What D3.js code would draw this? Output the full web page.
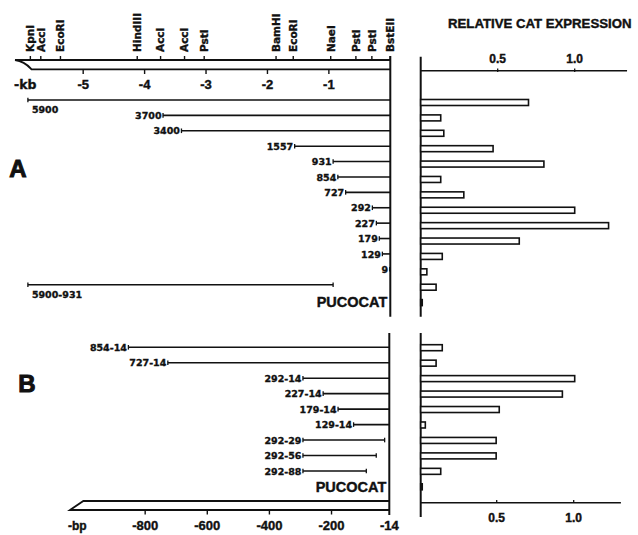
<html>
<head>
<meta charset="utf-8">
<script src="https://d3js.org/d3.v7.min.js"></script>
<style>
body { margin: 0; background: #fff; }
svg { display: block; }
.lbl { font-family: "DejaVu Sans", sans-serif; font-weight: bold; fill: #111; stroke: #111; stroke-width: 0.35px; }
.ax { font-family: "Liberation Sans", Arial, sans-serif; font-weight: bold; fill: #111; stroke: #111; stroke-width: 0.4px; }
</style>
</head>
<body>
<div id="chart"></div>
<script>
// restriction sites on the 5' flanking region (kb upstream)
var siteNames = ["KpnI", "AccI", "EcoRI", "HindIII", "AccI", "AccI", "PstI", "BamHI", "EcoRI", "NaeI", "PstI", "PstI", "BstEII"];
var siteKb = [-5.86, -5.69, -5.37, -4.12, -3.74, -3.35, -3.03, -1.86, -1.58, -0.97, -0.56, -0.30, 0];
var kbTicks = [-5, -4, -3, -2, -1];

// panel A: 5' deletions
var aLabels = ["5900", "3700", "3400", "1557", "931", "854", "727", "292", "227", "179", "129", "9", "5900-931", "PUCOCAT"];
var aStart = [-5900, -3700, -3400, -1557, -931, -854, -727, -292, -227, -179, -129, -9, -5900, null];
var aEnd = [0, 0, 0, 0, 0, 0, 0, 0, 0, 0, 0, 0, -931, null];
var aExpr = [0.70, 0.13, 0.15, 0.47, 0.80, 0.13, 0.28, 1.0, 1.22, 0.64, 0.14, 0.04, 0.10, 0.01];

// panel B: 3' deletions
var bLabels = ["854-14", "727-14", "292-14", "227-14", "179-14", "129-14", "292-29", "292-56", "292-88", "PUCOCAT"];
var bStart = [-854, -727, -292, -227, -179, -129, -292, -292, -292, null];
var bEnd = [-14, -14, -14, -14, -14, -14, -29, -56, -88, null];
var bExpr = [0.14, 0.10, 1.0, 0.92, 0.51, 0.03, 0.49, 0.49, 0.13, 0.01];
var bpTicks = [-800, -600, -400, -200, -14];

var exprTicks = [0.5, 1.0];

var svg = d3.select("#chart").append("svg")
	.attr("width", 638)
	.attr("height", 535);

var xKb = d3.scaleLinear().domain([-6110, 0]).range([15, 390.3]);
var xBp = d3.scaleLinear().domain([-1042, -14]).range([70, 389.3]);
var xE = d3.scaleLinear().domain([0, 1]).range([420.7, 574.7]);

var yA = d3.scalePoint().domain(d3.range(aLabels.length)).range([100, 300.1]);
var yB = d3.scalePoint().domain(d3.range(bLabels.length)).range([347.3, 486.4]);

var ink = "#111";

// ---- top kb map ----
var gMap = svg.append("g");
gMap.append("path")
	.attr("d", "M" + xKb(0) + ",60 L" + xKb(-6110) + ",60 Q" + (xKb(-6110) + 9) + ",61 " + xKb(-5840) + ",69.3 L" + xKb(0) + ",69.3")
	.attr("fill", "none").attr("stroke", ink).attr("stroke-width", 1.8);

gMap.selectAll(".site").data(siteKb).enter().append("line")
	.attr("x1", d => xKb(d * 1000)).attr("x2", d => xKb(d * 1000))
	.attr("y1", 56).attr("y2", 60)
	.attr("stroke", ink).attr("stroke-width", 1.4);

gMap.selectAll(".sitelbl").data(siteNames).enter().append("text")
	.attr("class", "lbl")
	.attr("transform", (d, i) => "translate(" + (xKb(siteKb[i] * 1000) + 3.8) + ",52) rotate(-90)")
	.style("font-size", "10.5px")
	.text(d => d);

gMap.selectAll(".kbt").data(kbTicks).enter().append("line")
	.attr("x1", d => xKb(d * 1000)).attr("x2", d => xKb(d * 1000))
	.attr("y1", 69.3).attr("y2", 74)
	.attr("stroke", ink).attr("stroke-width", 1.4);

gMap.selectAll(".kbl").data(kbTicks).enter().append("text")
	.attr("class", "ax")
	.attr("x", d => xKb(d * 1000)).attr("y", 89.3)
	.attr("text-anchor", "middle")
	.style("font-size", "13px")
	.text(d => "-" + Math.abs(d));

gMap.append("text").attr("class", "lbl")
	.attr("x", 14).attr("y", 89.3)
	.style("font-size", "12.5px")
	.text("-kb");

// ---- construct rows ----
function drawRows(g, labels, starts, ends, y, x, endX, capAtEnd, pucY) {
	labels.forEach(function(lab, i) {
		var yy = y(i);
		if (starts[i] === null) {
			g.append("text").attr("class", "ax")
				.attr("x", endX - 3).attr("y", yy + pucY)
				.attr("text-anchor", "end")
				.style("font-size", "14.5px")
				.text(lab);
			return;
		}
		var x1 = x(starts[i]), x2 = x(ends[i]);
		g.append("line").attr("x1", x1).attr("x2", x2).attr("y1", yy).attr("y2", yy)
			.attr("stroke", ink).attr("stroke-width", 1.6);
		g.append("line").attr("x1", x1).attr("x2", x1).attr("y1", yy - 2.3).attr("y2", yy + 2.3)
			.attr("stroke", ink).attr("stroke-width", 1.3);
		if (ends[i] !== capAtEnd) {
			g.append("line").attr("x1", x2).attr("x2", x2).attr("y1", yy - 2.3).attr("y2", yy + 2.3)
				.attr("stroke", ink).attr("stroke-width", 1.3);
		}
		var t = g.append("text").attr("class", "lbl").style("font-size", "9.5px").text(lab);
		if (starts[i] <= -5000) {
			t.attr("x", x1 + 4).attr("y", yy + 13);
		} else {
			t.attr("x", x1 - 1.5).attr("y", yy + 3.6).attr("text-anchor", "end");
		}
	});
}

var gA = svg.append("g");
gA.append("line").attr("x1", xKb(0)).attr("x2", xKb(0)).attr("y1", 56).attr("y2", 316.7)
	.attr("stroke", ink).attr("stroke-width", 2);
drawRows(gA, aLabels, aStart, aEnd, yA, xKb, xKb(0), 0, 6.5);

svg.append("text").attr("class", "ax")
	.attr("x", 18).attr("y", 177.3).attr("text-anchor", "middle")
	.style("font-size", "24px").style("stroke-width", "1px").text("A");

var gB = svg.append("g");
gB.append("line").attr("x1", xBp(-14)).attr("x2", xBp(-14)).attr("y1", 333).attr("y2", 515)
	.attr("stroke", ink).attr("stroke-width", 2);
drawRows(gB, bLabels, bStart, bEnd, yB, xBp, xBp(-14), -14, 5.2);

svg.append("text").attr("class", "ax")
	.attr("x", 27).attr("y", 391.7).attr("text-anchor", "middle")
	.style("font-size", "24px").style("stroke-width", "1px").text("B");

// ---- bottom bp axis ----
var gBot = svg.append("g");
gBot.append("path")
	.attr("d", "M" + xBp(-14) + ",501 L" + xBp(-999) + ",501 L" + xBp(-1042) + ",510 L" + xBp(-14) + ",510")
	.attr("fill", "none").attr("stroke", ink).attr("stroke-width", 1.8);
gBot.selectAll(".bpt").data(bpTicks.slice(0, 4)).enter().append("line")
	.attr("x1", d => xBp(d)).attr("x2", d => xBp(d))
	.attr("y1", 510).attr("y2", 514.5)
	.attr("stroke", ink).attr("stroke-width", 1.4);
gBot.selectAll(".bpl").data(bpTicks).enter().append("text")
	.attr("class", "ax")
	.attr("x", d => xBp(d)).attr("y", 530)
	.attr("text-anchor", "middle")
	.style("font-size", "13px")
	.text(d => "-" + Math.abs(d));
gBot.append("text").attr("class", "ax")
	.attr("x", 68).attr("y", 530)
	.style("font-size", "12px")
	.text("-bp");

// ---- expression bars ----
function drawBars(g, vals, y, dy) {
	g.selectAll("rect").data(vals).enter().append("rect")
		.attr("x", xE(0))
		.attr("y", (d, i) => y(i) + dy)
		.attr("width", d => xE(d) - xE(0))
		.attr("height", 6)
		.attr("fill", (d, i) => i === vals.length - 1 ? ink : "#fff")
		.attr("stroke", ink)
		.attr("stroke-width", 1.6);
}

var eA = svg.append("g");
eA.append("line").attr("x1", xE(0)).attr("x2", xE(1.34)).attr("y1", 70.7).attr("y2", 70.7)
	.attr("stroke", ink).attr("stroke-width", 1.5);
eA.append("line").attr("x1", xE(0)).attr("x2", xE(0)).attr("y1", 56.7).attr("y2", 316.7)
	.attr("stroke", ink).attr("stroke-width", 2);
eA.selectAll(".et").data(exprTicks).enter().append("line")
	.attr("x1", d => xE(d)).attr("x2", d => xE(d)).attr("y1", 68.5).attr("y2", 72)
	.attr("stroke", ink).attr("stroke-width", 1.3);
eA.selectAll(".el").data(exprTicks).enter().append("text").attr("class", "ax")
	.attr("x", d => xE(d)).attr("y", 63.3).attr("text-anchor", "middle")
	.style("font-size", "12px").text(d => d.toFixed(1));
drawBars(eA.append("g"), aExpr, yA, -0.5);

svg.append("text").attr("class", "ax")
	.attr("x", 448).attr("y", 28.3)
	.style("font-size", "13.2px")
	.text("RELATIVE CAT EXPRESSION");

var eB = svg.append("g");
eB.append("line").attr("x1", xE(0)).attr("x2", xE(1.3)).attr("y1", 502.7).attr("y2", 502.7)
	.attr("stroke", ink).attr("stroke-width", 1.5);
eB.append("line").attr("x1", xE(0)).attr("x2", xE(0)).attr("y1", 333).attr("y2", 517)
	.attr("stroke", ink).attr("stroke-width", 2);
eB.selectAll(".et").data(exprTicks).enter().append("line")
	.attr("x1", d => xE(d) - 1).attr("x2", d => xE(d) - 1).attr("y1", 500).attr("y2", 503)
	.attr("stroke", ink).attr("stroke-width", 1.3);
eB.selectAll(".el").data(exprTicks).enter().append("text").attr("class", "ax")
	.attr("x", d => xE(d) - 1).attr("y", 522).attr("text-anchor", "middle")
	.style("font-size", "12px").text(d => d.toFixed(1));
drawBars(eB.append("g"), bExpr, yB, -2.6);
</script>
</body>
</html>
